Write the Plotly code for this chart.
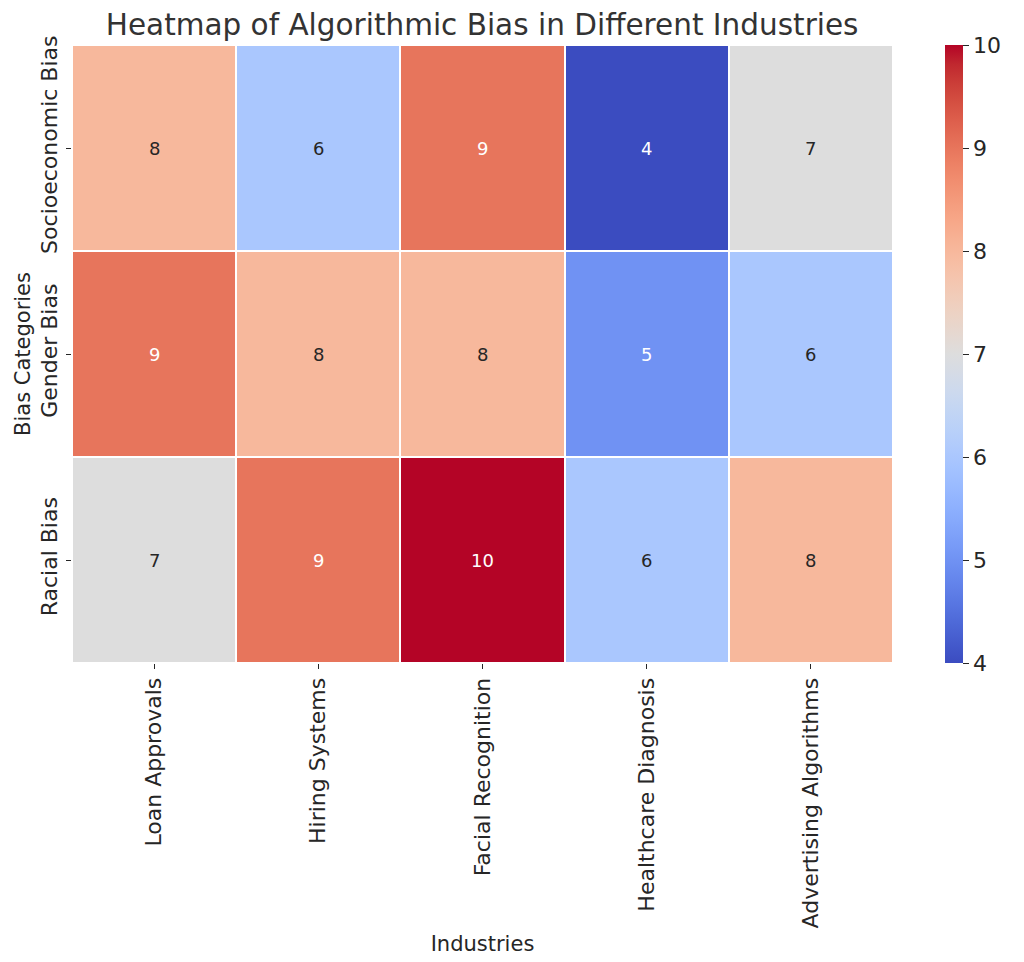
import plotly.graph_objects as go

industries = ["Loan Approvals", "Hiring Systems", "Facial Recognition", "Healthcare Diagnosis", "Advertising Algorithms"]
bias_categories = ["Socioeconomic Bias", "Gender Bias", "Racial Bias"]
socioeconomic = [8, 6, 9, 4, 7]
gender = [9, 8, 8, 5, 6]
racial = [7, 9, 10, 6, 8]
values = [socioeconomic, gender, racial]
zmin, zmax = 4, 10

coolwarm_rgb = [
    (59, 76, 192), (68, 90, 204), (77, 104, 215), (87, 117, 225), (98, 130, 234),
    (108, 142, 241), (119, 154, 247), (130, 165, 251), (141, 176, 254), (152, 185, 255),
    (163, 194, 255), (174, 201, 253), (184, 208, 249), (194, 213, 244), (204, 217, 238),
    (213, 219, 230), (221, 221, 221), (229, 216, 209), (236, 211, 197), (241, 204, 185),
    (245, 196, 173), (247, 187, 160), (247, 177, 148), (247, 166, 135), (244, 154, 123),
    (241, 141, 111), (236, 127, 99), (229, 112, 88), (222, 96, 77), (213, 80, 66),
    (203, 62, 56), (192, 40, 47), (180, 4, 38)]
n = len(coolwarm_rgb) - 1
colorscale = [[i / n, "rgb(%d,%d,%d)" % c] for i, c in enumerate(coolwarm_rgb)]


def color_at(v):
    t = (v - zmin) / (zmax - zmin) * n
    i = min(int(t), n - 1)
    f = t - i
    a, b = coolwarm_rgb[i], coolwarm_rgb[i + 1]
    return [a[k] + (b[k] - a[k]) * f for k in range(3)]


def luminance(rgb):
    out = []
    for c in rgb:
        c = c / 255
        out.append(c / 12.92 if c <= 0.03928 else ((c + 0.055) / 1.055) ** 2.4)
    return 0.2126 * out[0] + 0.7152 * out[1] + 0.0722 * out[2]


font_family = "DejaVu Sans"
text_dark = "#262626"

fig = go.Figure(go.Heatmap(
    z=values, x=industries, y=bias_categories,
    colorscale=colorscale, zmin=zmin, zmax=zmax,
    xgap=2, ygap=2,
    colorbar=dict(
        x=1.063, xanchor="left", xpad=0, y=0.5, yanchor="middle", ypad=0,
        len=1.0, lenmode="fraction", thickness=18,
        outlinewidth=0, tickvals=[4, 5, 6, 7, 8, 9, 10],
        ticks="outside", ticklen=6, tickcolor=text_dark,
        tickfont=dict(family=font_family, size=22, color=text_dark),
    ),
    hoverinfo="skip",
))

annotations = []
for r, row in enumerate(values):
    for c, v in enumerate(row):
        col = "white" if luminance(color_at(v)) <= 0.408 else text_dark
        annotations.append(dict(x=industries[c], y=bias_categories[r], text=str(v),
                                showarrow=False, font=dict(family=font_family, size=18, color=col)))

fig.update_layout(
    width=1024, height=962,
    margin=dict(l=64, r=139, t=37, b=307),
    paper_bgcolor="white", plot_bgcolor="white",
    font=dict(family=font_family, color=text_dark),
    title=dict(text="Heatmap of Algorithmic Bias in Different Industries",
               x=0.463, xanchor="center", y=0.983, yanchor="middle",
               font=dict(family=font_family, size=29.5, color="#333333")),
    annotations=annotations,
    xaxis=dict(title=dict(text="Industries", font=dict(size=21), standoff=8),
               tickangle=-90, ticks="outside", ticklen=5, tickcolor=text_dark,
               tickfont=dict(size=22), showgrid=False, zeroline=False, showline=False),
    yaxis=dict(title=dict(text="Bias Categories", font=dict(size=21), standoff=0),
               tickangle=-90, ticks="outside", ticklen=5, tickcolor=text_dark,
               tickfont=dict(size=22), autorange="reversed",
               showgrid=False, zeroline=False, showline=False),
)

fig.write_html("out.html")
